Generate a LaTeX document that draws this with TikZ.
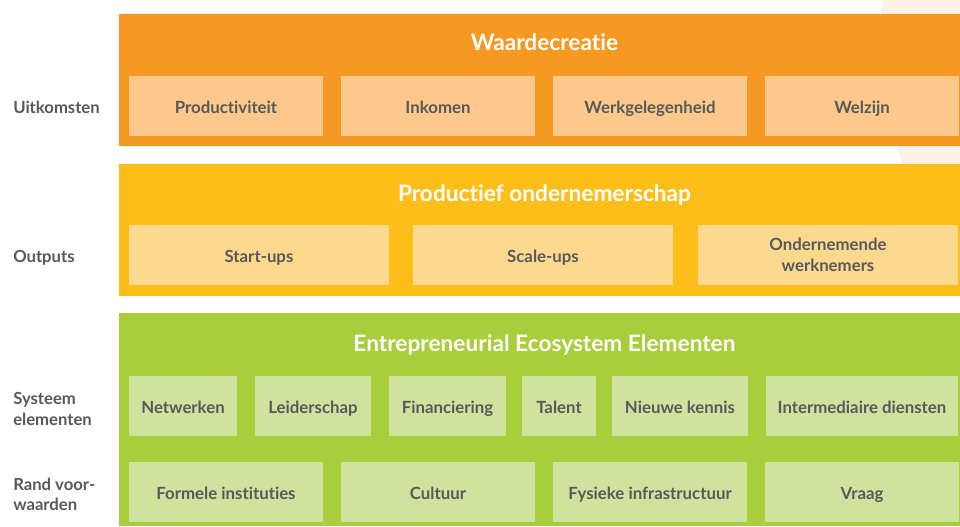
\documentclass[tikz,border=0pt]{standalone}
\usepackage{fontspec}
\setmainfont{Lato}[Ligatures=NoCommon]
\definecolor{orangeband}{HTML}{F69922}
\definecolor{orangecell}{HTML}{FCC88B}
\definecolor{yellowband}{HTML}{FDBE1A}
\definecolor{yellowcell}{HTML}{FCD98F}
\definecolor{greenband}{HTML}{A8CE3B}
\definecolor{greencell}{HTML}{D0E29D}
\definecolor{txt}{HTML}{58595B}
\definecolor{bgcircle}{HTML}{FDF1E6}
\newcommand{\mkcell}[7]{\node[cellbox, #6, minimum width={(#3-#2)*0.75pt}, minimum height={(#5-#4)*0.75pt}] (#1) at ({(#2+#3)/2},{(#4+#5)/2}) {#7};}
\tikzset{
  cellbox/.style={draw=none, inner sep=0pt, outer sep=0pt, font=\bfseries\fontsize{12.6}{15.75}\selectfont, text=txt},
  oneline/.style={text height=10.5pt, text depth=0pt},
  titletext/.style={font=\bfseries\fontsize{17}{20}\selectfont, text=white, anchor=base, inner sep=0pt},
  sidetext/.style={font=\bfseries\fontsize{12.5}{15.4}\selectfont, text=txt, align=left, inner sep=0pt},
}
\begin{document}
\begin{tikzpicture}[x=0.75pt,y=-0.75pt]
\useasboundingbox (0,0) rectangle (960,526);
\fill[white] (0,0) rectangle (960,526);
\begin{scope}
\clip (0,0) rectangle (960,526);
\fill[bgcircle] (1418,18) circle[radius=402pt];
\end{scope}
% bands
\mkcell{wcband}{119}{960}{14}{146}{fill=orangeband}{}
\mkcell{poband}{119}{960}{164}{296}{fill=yellowband}{}
\mkcell{eeband}{119}{960}{313}{526}{fill=greenband}{}
% titles
\node[titletext] (wctitle) at (544.5,50) {Waardecreatie};
\node[titletext] (potitle) at (544.5,201) {Productief ondernemerschap};
\node[titletext] (eetitle) at (544.5,351) {Entrepreneurial Ecosystem Elementen};
% outcomes
\mkcell{prod}{129}{323}{76}{136}{fill=orangecell, oneline}{Productiviteit}
\mkcell{inko}{341}{535}{76}{136}{fill=orangecell, oneline}{Inkomen}
\mkcell{werk}{553}{747}{76}{136}{fill=orangecell, oneline}{Werkgelegenheid}
\mkcell{welz}{765}{959}{76}{136}{fill=orangecell, oneline}{Welzijn}
% outputs
\mkcell{start}{129}{389}{225}{285}{fill=yellowcell, oneline}{Start-ups}
\mkcell{scale}{413}{673}{225}{285}{fill=yellowcell, oneline}{Scale-ups}
\mkcell{onder}{698}{958}{225}{285}{fill=yellowcell, align=center}{Ondernemende\\werknemers}
% system elements
\mkcell{netw}{129}{237}{376}{436}{fill=greencell, oneline}{Netwerken}
\mkcell{leid}{255}{371}{376}{436}{fill=greencell, oneline}{Leiderschap}
\mkcell{fina}{389}{506}{376}{436}{fill=greencell, oneline}{Financiering}
\mkcell{tale}{522}{596}{376}{436}{fill=greencell, oneline}{Talent}
\mkcell{nieu}{612}{748}{376}{436}{fill=greencell, oneline}{Nieuwe kennis}
\mkcell{inte}{766}{958}{376}{436}{fill=greencell, oneline}{Intermediaire diensten}
% framework conditions
\mkcell{form}{129}{323}{462}{522}{fill=greencell, oneline}{Formele instituties}
\mkcell{cult}{341}{535}{462}{522}{fill=greencell, oneline}{Cultuur}
\mkcell{fysi}{553}{747}{462}{522}{fill=greencell, oneline}{Fysieke infrastructuur}
\mkcell{vraa}{765}{959}{462}{522}{fill=greencell, oneline}{Vraag}
% side labels
\node[sidetext, anchor=base west] (lbuit) at (13,113) {Uitkomsten};
\node[sidetext, anchor=base west] (lbout) at (13,262) {Outputs};
\node[sidetext, anchor=west] (lbsys) at (13,409) {Systeem\\elementen};
\node[sidetext, anchor=west] (lbrand) at (13,494.5) {Rand voor-\\waarden};
\end{tikzpicture}
\end{document}
